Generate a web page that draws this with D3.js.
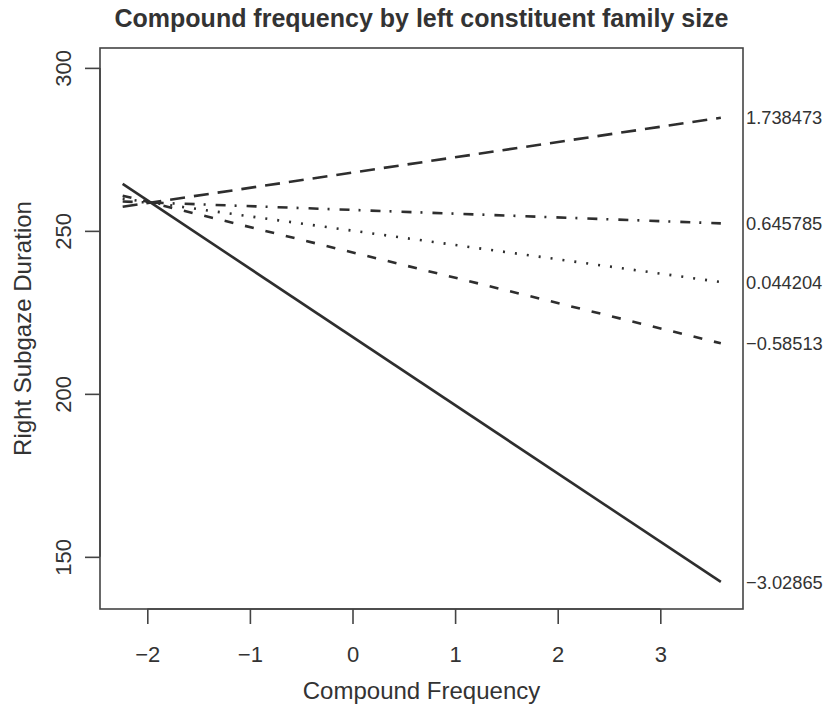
<!DOCTYPE html>
<html>
<head>
<meta charset="utf-8">
<script src="https://cdn.jsdelivr.net/npm/d3@7"></script>
<style>
  html, body { margin: 0; padding: 0; background: #fff; }
  svg { display: block; }
  text { font-family: "Liberation Sans", Arial, Helvetica, sans-serif; fill: #333; }
</style>
</head>
<body>
<svg id="chart" width="827" height="708"></svg>
<script>
// ---- data ----
const familySizes = ["1.738473", "0.645785", "0.044204", "−0.58513", "−3.02865"];
const lineStyles = ["longdash", "dotdash", "dotted", "dashed", "solid"];
const xStart = -2.24;
const xEnd = 3.59;
const startValues = [257.4, 259.0, 259.9, 260.8, 264.4];
const endValues = [284.7, 252.3, 234.3, 215.5, 142.3];
const xTicks = [-2, -1, 0, 1, 2, 3];
const yTicks = [150, 200, 250, 300];
const titleText = "Compound frequency by left constituent family size";
const xLabel = "Compound Frequency";
const yLabel = "Right Subgaze Duration";

// ---- layout ----
const box = { left: 100, right: 743, top: 48, bottom: 609 };
const dashes = {
  solid: null,
  dashed: "9,12",
  dotted: "2,10",
  dotdash: "10,9,2,10",
  longdash: "15,9"
};
const ink = "#2e2e2e";

const svg = d3.select("#chart");

const x = d3.scaleLinear().domain([-2.461, 3.806]).range([box.left, box.right]);
const y = d3.scaleLinear().domain([134.0, 306.1]).range([box.bottom, box.top]);

// lines
const series = familySizes.map((fs, i) => ({
  label: fs,
  style: lineStyles[i],
  pts: [[xStart, startValues[i]], [xEnd, endValues[i]]]
}));

const line = d3.line().x(d => x(d[0])).y(d => y(d[1]));

svg.append("g").selectAll("path")
  .data(series)
  .join("path")
  .attr("d", d => line(d.pts))
  .attr("fill", "none")
  .attr("stroke", ink)
  .attr("stroke-width", 2.6)
  .attr("stroke-dasharray", d => dashes[d.style]);

// box
svg.append("rect")
  .attr("x", box.left).attr("y", box.top)
  .attr("width", box.right - box.left).attr("height", box.bottom - box.top)
  .attr("fill", "none").attr("stroke", "#444").attr("stroke-width", 1.6);

// x axis
const gx = svg.append("g")
  .attr("transform", `translate(0,${box.bottom})`)
  .call(d3.axisBottom(x).tickValues(xTicks).tickSize(15).tickSizeOuter(0).tickPadding(22).tickFormat(d3.format("d")));
gx.select(".domain").attr("d", `M${x(-2)},0H${x(3)}`).attr("stroke", "#444").attr("stroke-width", 1.6);
gx.selectAll(".tick line").attr("stroke", "#444").attr("stroke-width", 1.6);
gx.selectAll(".tick text").attr("font-size", 22).attr("fill", "#333")
  .attr("font-family", "Liberation Sans, Arial, sans-serif").attr("dy", "0.71em");

// y axis
const gy = svg.append("g")
  .attr("transform", `translate(${box.left},0)`)
  .call(d3.axisLeft(y).tickValues(yTicks).tickSize(15).tickSizeOuter(0));
gy.select(".domain").attr("d", `M0,${y(150)}V${y(300)}`).attr("stroke", "#444").attr("stroke-width", 1.6);
gy.selectAll(".tick line").attr("stroke", "#444").attr("stroke-width", 1.6);
gy.selectAll(".tick text")
  .attr("font-size", 22).attr("fill", "#333")
  .attr("font-family", "Liberation Sans, Arial, sans-serif")
  .attr("x", null).attr("dy", null)
  .attr("text-anchor", "middle")
  .attr("transform", "translate(-29,0) rotate(-90)");

// right-side labels
svg.append("g").selectAll("text")
  .data(series)
  .join("text")
  .attr("x", box.right + 3)
  .attr("y", (d, i) => y(endValues[i]))
  .attr("dy", "0.36em")
  .attr("font-size", 18.3)
  .attr("fill", "#222")
  .text(d => d.label);

// title
svg.append("text")
  .attr("x", (box.left + box.right) / 2)
  .attr("y", 27)
  .attr("text-anchor", "middle")
  .attr("font-size", 25)
  .attr("font-weight", "bold")
  .attr("fill", "#111")
  .text(titleText);

// axis titles
svg.append("text")
  .attr("x", (box.left + box.right) / 2)
  .attr("y", 699)
  .attr("text-anchor", "middle")
  .attr("font-size", 24)
  .text(xLabel);

svg.append("text")
  .attr("transform", `translate(31,${(box.top + box.bottom) / 2}) rotate(-90)`)
  .attr("text-anchor", "middle")
  .attr("font-size", 24)
  .text(yLabel);
</script>
</body>
</html>
